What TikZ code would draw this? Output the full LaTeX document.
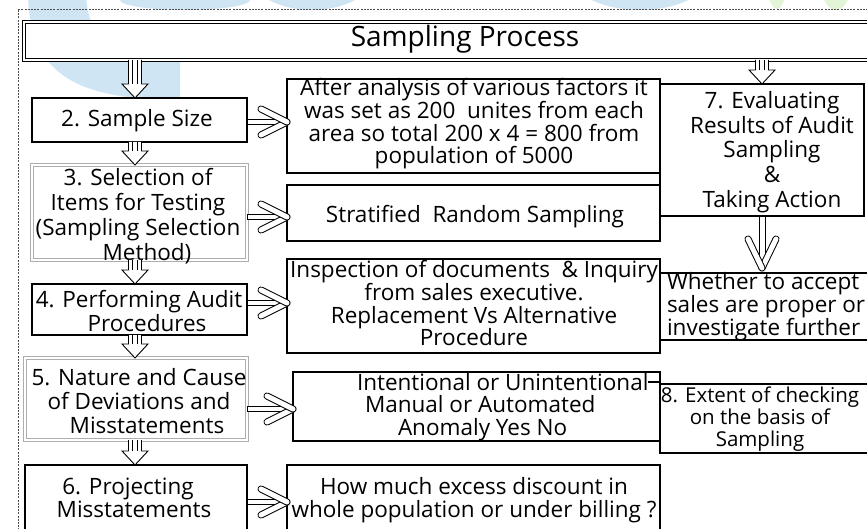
\documentclass[tikz,border=0pt]{standalone}
\usepackage{fontspec}
\setmainfont{Open Sans}
\usetikzlibrary{calc}

\definecolor{wmblue}{RGB}{208,229,243}
\definecolor{wmgreen}{RGB}{228,244,214}

\tikzset{
  every node/.style={inner sep=0pt, outer sep=0pt, align=center},
  txt/.style={font=\fontsize{22.5}{22.5}\selectfont},
  boldbox/.style={draw, line width=1.7pt, fill=white},
  midbox/.style={draw, line width=1.4pt, fill=white},
  greybox/.style={draw=black!32, line width=1pt, double=white, double distance=1.2pt, fill=white},
  titlebox/.style={draw, line width=0.9pt, double=white, double distance=1.6pt, fill=white},
  hollow/.style={draw, line width=0.9pt, fill=white, line join=miter},
}

% horizontal connector: thin hollow shaft with two rounded open barbs
\newcommand{\hArrow}[3]{%
  \path (#1 |- 0,#3) coordinate (ta) (#2 |- 0,#3) coordinate (tp);
  \draw[hollow] ($(ta)+(0,-2.8)$) rectangle ($(tp)+(-3,2.8)$);
  \foreach \s in {1,-1}{
    \draw[line width=7pt, line cap=round] ($(tp)+(-26,\s*13)$) -- ($(tp)+(0,0)$);
    \draw[white, line width=5pt, line cap=round] ($(tp)+(-26,\s*13)$) -- ($(tp)+(0,0)$);
  }
}
% vertical version of the same connector
\newcommand{\vArrow}[3]{%
  \path (#3,0 |- #1) coordinate (ta) (#3,0 |- #2) coordinate (tp);
  \draw[hollow] ($(ta)+(-3,0)$) rectangle ($(tp)+(3,-6)$);
  \foreach \s in {1,-1}{
    \draw[line width=7pt, line cap=round] ($(tp)+(\s*14,-34)$) -- ($(tp)+(0,-5)$);
    \draw[white, line width=5pt, line cap=round] ($(tp)+(\s*14,-34)$) -- ($(tp)+(0,-5)$);
  }
}
% downward block arrow
\newcommand{\vBlock}[3]{%
  \path (#3,0 |- #1) coordinate (ta) (#3,0 |- #2) coordinate (tp);
  \draw[hollow] ($(ta)+(-6.5,0)$) -- ($(tp)+(-6.5,-14)$) -- ($(tp)+(-13,-14)$) -- (tp)
     -- ($(tp)+(13,-14)$) -- ($(tp)+(6.5,-14)$) -- ($(ta)+(6.5,0)$);
  \draw[line width=0.6pt] ($(ta)+(-2.5,0)$) -- ($(tp)+(-2.5,-14)$)
     ($(ta)+(2.5,0)$) -- ($(tp)+(2.5,-14)$);
}

\begin{document}
\begin{tikzpicture}[x=1pt, y=-1pt]
\useasboundingbox (0,0) rectangle (867,529);
\clip (0,0) rectangle (867,529);

% faint background logo shapes
\fill[wmblue] (28,-5) .. controls (30,70) and (70,100) .. (180,100) -- (180,62)
   .. controls (115,62) and (88,40) .. (86,-5) -- cycle;
\fill[wmblue] (185,0) ellipse (65 and 10);
\fill[wmblue] (312,-30) ellipse (65 and 40);
\fill[wmblue] (640,-30) ellipse (73 and 40);
\fill[wmgreen] (777,-20) ellipse (10 and 29);
\fill[wmgreen] (836,-20) ellipse (16 and 30);

% dashed frame
\draw[black!70, line width=0.6pt, dash pattern=on 2pt off 1.2pt] (18,540) -- (18,9) -- (880,9);

% title bar
\node[titlebox, minimum width=858, minimum height=38] (title) at (453,41) {};
\node[txt, font=\fontsize{28}{30}\selectfont] (ttl) at (465,39) {Sampling Process};

% left column
\node[boldbox, minimum width=215, minimum height=44] (s2) at (139.5,120) {};
\node[txt] at (137,121) {2. Sample Size};
\node[greybox, minimum width=215, minimum height=95] (s3) at (139.5,212.5) {};
\node[txt, font=\fontsize{22.5}{25}\selectfont] at (138,216) {3. Selection of\\Items for Testing\\(Sampling Selection\\\hspace*{18pt}Method)};
\node[boldbox, minimum width=215, minimum height=51] (s4) at (139.5,309.5) {};
\node[txt, font=\fontsize{22.5}{24}\selectfont] at (139,311) {4. Performing Audit\\\hspace*{16pt}Procedures};
\node[greybox, minimum width=222, minimum height=82] (s5) at (136,399) {};
\node[txt, font=\fontsize{22.5}{24}\selectfont] at (139,401) {5. Nature and Cause\\of Deviations and\\\hspace*{16pt}Misstatements};
\node[boldbox, minimum width=222, minimum height=80] (s6) at (136,505) {};
\node[txt] at (134,498) {6. Projecting\hspace*{12pt}\\Misstatements};

% middle column
\node[midbox, minimum width=373, minimum height=94] (nA) at (473.5,126) {};
\node[txt] at (474,123.5) {After analysis of various factors it\\was set as 200\ \ unites from each\\area so total 200 x 4 = 800 from\\population of 5000};
\node[midbox, minimum width=373, minimum height=56] (nB) at (473.5,213) {};
\node[txt] at (475,217) {Stratified\ \ Random Sampling};
\node[midbox, minimum width=373, minimum height=94] (nC) at (473.5,306) {};
\node[txt] at (474,303) {Inspection of documents\ \ \& Inquiry\\from sales executive.\\Replacement Vs Alternative\\Procedure};
\node[midbox, minimum width=367, minimum height=69] (nD) at (476.5,406.5) {};
\node[txt, align=left, anchor=west] at (365,407) {\hspace*{-8pt}Intentional or Unintentional\\Manual or Automated\\\hspace*{33pt}Anomaly Yes No};
\node[midbox, minimum width=373, minimum height=80] (nE) at (473.5,505) {};
\node[txt] at (474,500) {How much excess discount in\\whole population or under billing ?};

% right column
\node[midbox, minimum width=204, minimum height=132] (n7) at (762,150) {};
\node[txt, font=\fontsize{22.5}{24.6}\selectfont] at (772,152) {7. Evaluating\\Results of Audit\\Sampling\\\&\\Taking Action};
\node[midbox, minimum width=230, minimum height=67] (nW) at (775,306.5) {};
\node[txt, align=left, anchor=west] at (667,307) {Whether to accept\\sales are proper or\\investigate further};
\node[midbox, minimum width=230, minimum height=69] (n8) at (775,418.5) {};
\node[txt, font=\fontsize{20.5}{22}\selectfont] at (760,419) {8. Extent of checking\\on the basis of\\Sampling};
\coordinate (stub) at ($(nD.north east)+(-12,10)$);
\draw[line width=1.2pt] (stub) -- (stub -| n8.west);

% connectors
\vBlock{title.south}{s2.north}{135}
\vBlock{s2.south}{s3.north}{135}
\vBlock{s3.south}{s4.north}{135}
\vBlock{s4.south}{s5.north}{135}
\vBlock{s5.south}{s6.north}{135}
\vBlock{title.south}{n7.north}{762}
\vArrow{n7.south}{nW.north}{762}

\hArrow{s2.east}{nA.west}{122}
\hArrow{s3.east}{nB.west}{217}
\hArrow{s4.east}{nC.west}{303}
\hArrow{s5.east}{nD.west}{409}
\hArrow{s6.east}{nE.west}{502}
\end{tikzpicture}
\end{document}
